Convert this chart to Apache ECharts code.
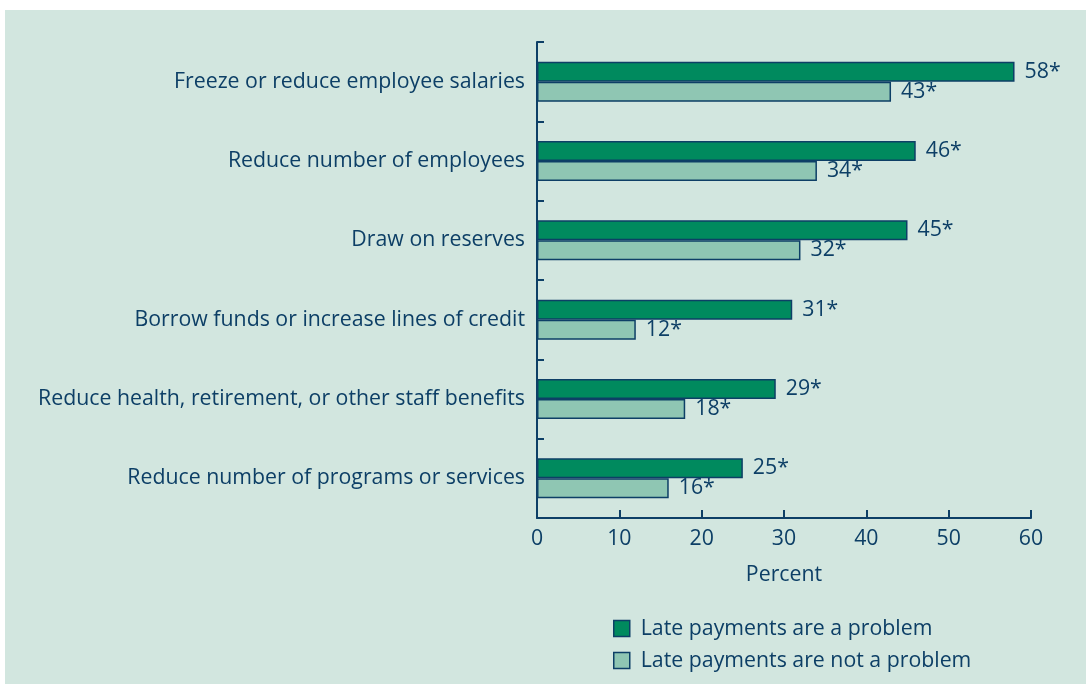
<!DOCTYPE html>
<html><head><meta charset="utf-8">
<script src="https://cdn.jsdelivr.net/npm/echarts@6/dist/echarts.min.js"></script>
<style>html,body{margin:0;padding:0;background:#fff}#c{width:1086px;height:684px}</style>
</head><body><div id="c"></div>
<script>
const categories = [
  "Freeze or reduce employee salaries",
  "Reduce number of employees",
  "Draw on reserves",
  "Borrow funds or increase lines of credit",
  "Reduce health, retirement, or other staff benefits",
  "Reduce number of programs or services"
];
const seriesNames = ["Late payments are a problem", "Late payments are not a problem"];
const problemValues = [58, 46, 45, 31, 29, 25];
const notProblemValues = [43, 34, 32, 12, 18, 16];
const xTicks = [0, 10, 20, 30, 40, 50, 60];

const navy = '#0d3f66';
const font = 'Open Sans';
const fs = 21.3;
const chart = echarts.init(document.getElementById('c'));
const lbl = {show: true, position: 'right', distance: 10, color: navy, fontSize: fs, fontFamily: font, formatter: p => p.value + '*'};
chart.setOption({
  backgroundColor: '#ffffff',
  animation: false,
  graphic: [{type: 'rect', left: 5, top: 10, shape: {width: 1081, height: 674}, style: {fill: '#d2e6df'}, z: -10}],
  grid: {left: 537, right: 55, top: 42, bottom: 166},
  legend: {
    orient: 'vertical', left: 608, top: 613, itemWidth: 16, itemHeight: 16, itemGap: 11,
    icon: 'rect',
    textStyle: {color: navy, fontSize: fs, fontFamily: font, padding: [0, 0, 0, 6]},
    itemStyle: {borderColor: navy, borderWidth: 1.5},
    data: seriesNames
  },
  xAxis: {
    type: 'value', min: 0, max: 60, interval: 10,
    name: 'Percent', nameLocation: 'middle', nameGap: 46,
    nameTextStyle: {color: navy, fontSize: fs, fontFamily: font},
    axisLine: {show: true, lineStyle: {color: navy, width: 2}},
    axisTick: {show: true, inside: true, length: 8, lineStyle: {color: navy, width: 2}},
    axisLabel: {color: navy, fontSize: fs, fontFamily: font, margin: 10, formatter: v => xTicks.includes(v) ? String(v) : ''},
    splitLine: {show: false}
  },
  yAxis: {
    type: 'category', data: categories, inverse: true,
    axisLine: {show: true, lineStyle: {color: navy, width: 2}},
    axisTick: {show: true, inside: true, length: 7, lineStyle: {color: navy, width: 2}},
    axisLabel: {color: navy, fontSize: fs, fontFamily: font, margin: 12}
  },
  series: [
    {name: seriesNames[0], type: 'bar', data: problemValues, barWidth: 20, barGap: '0%',
     itemStyle: {color: '#008a5e', borderColor: navy, borderWidth: 1.5}, label: lbl},
    {name: seriesNames[1], type: 'bar', data: notProblemValues, barWidth: 20, barGap: '0%',
     itemStyle: {color: '#8fc6b3', borderColor: navy, borderWidth: 1.5}, label: lbl}
  ]
});
</script></body></html>
